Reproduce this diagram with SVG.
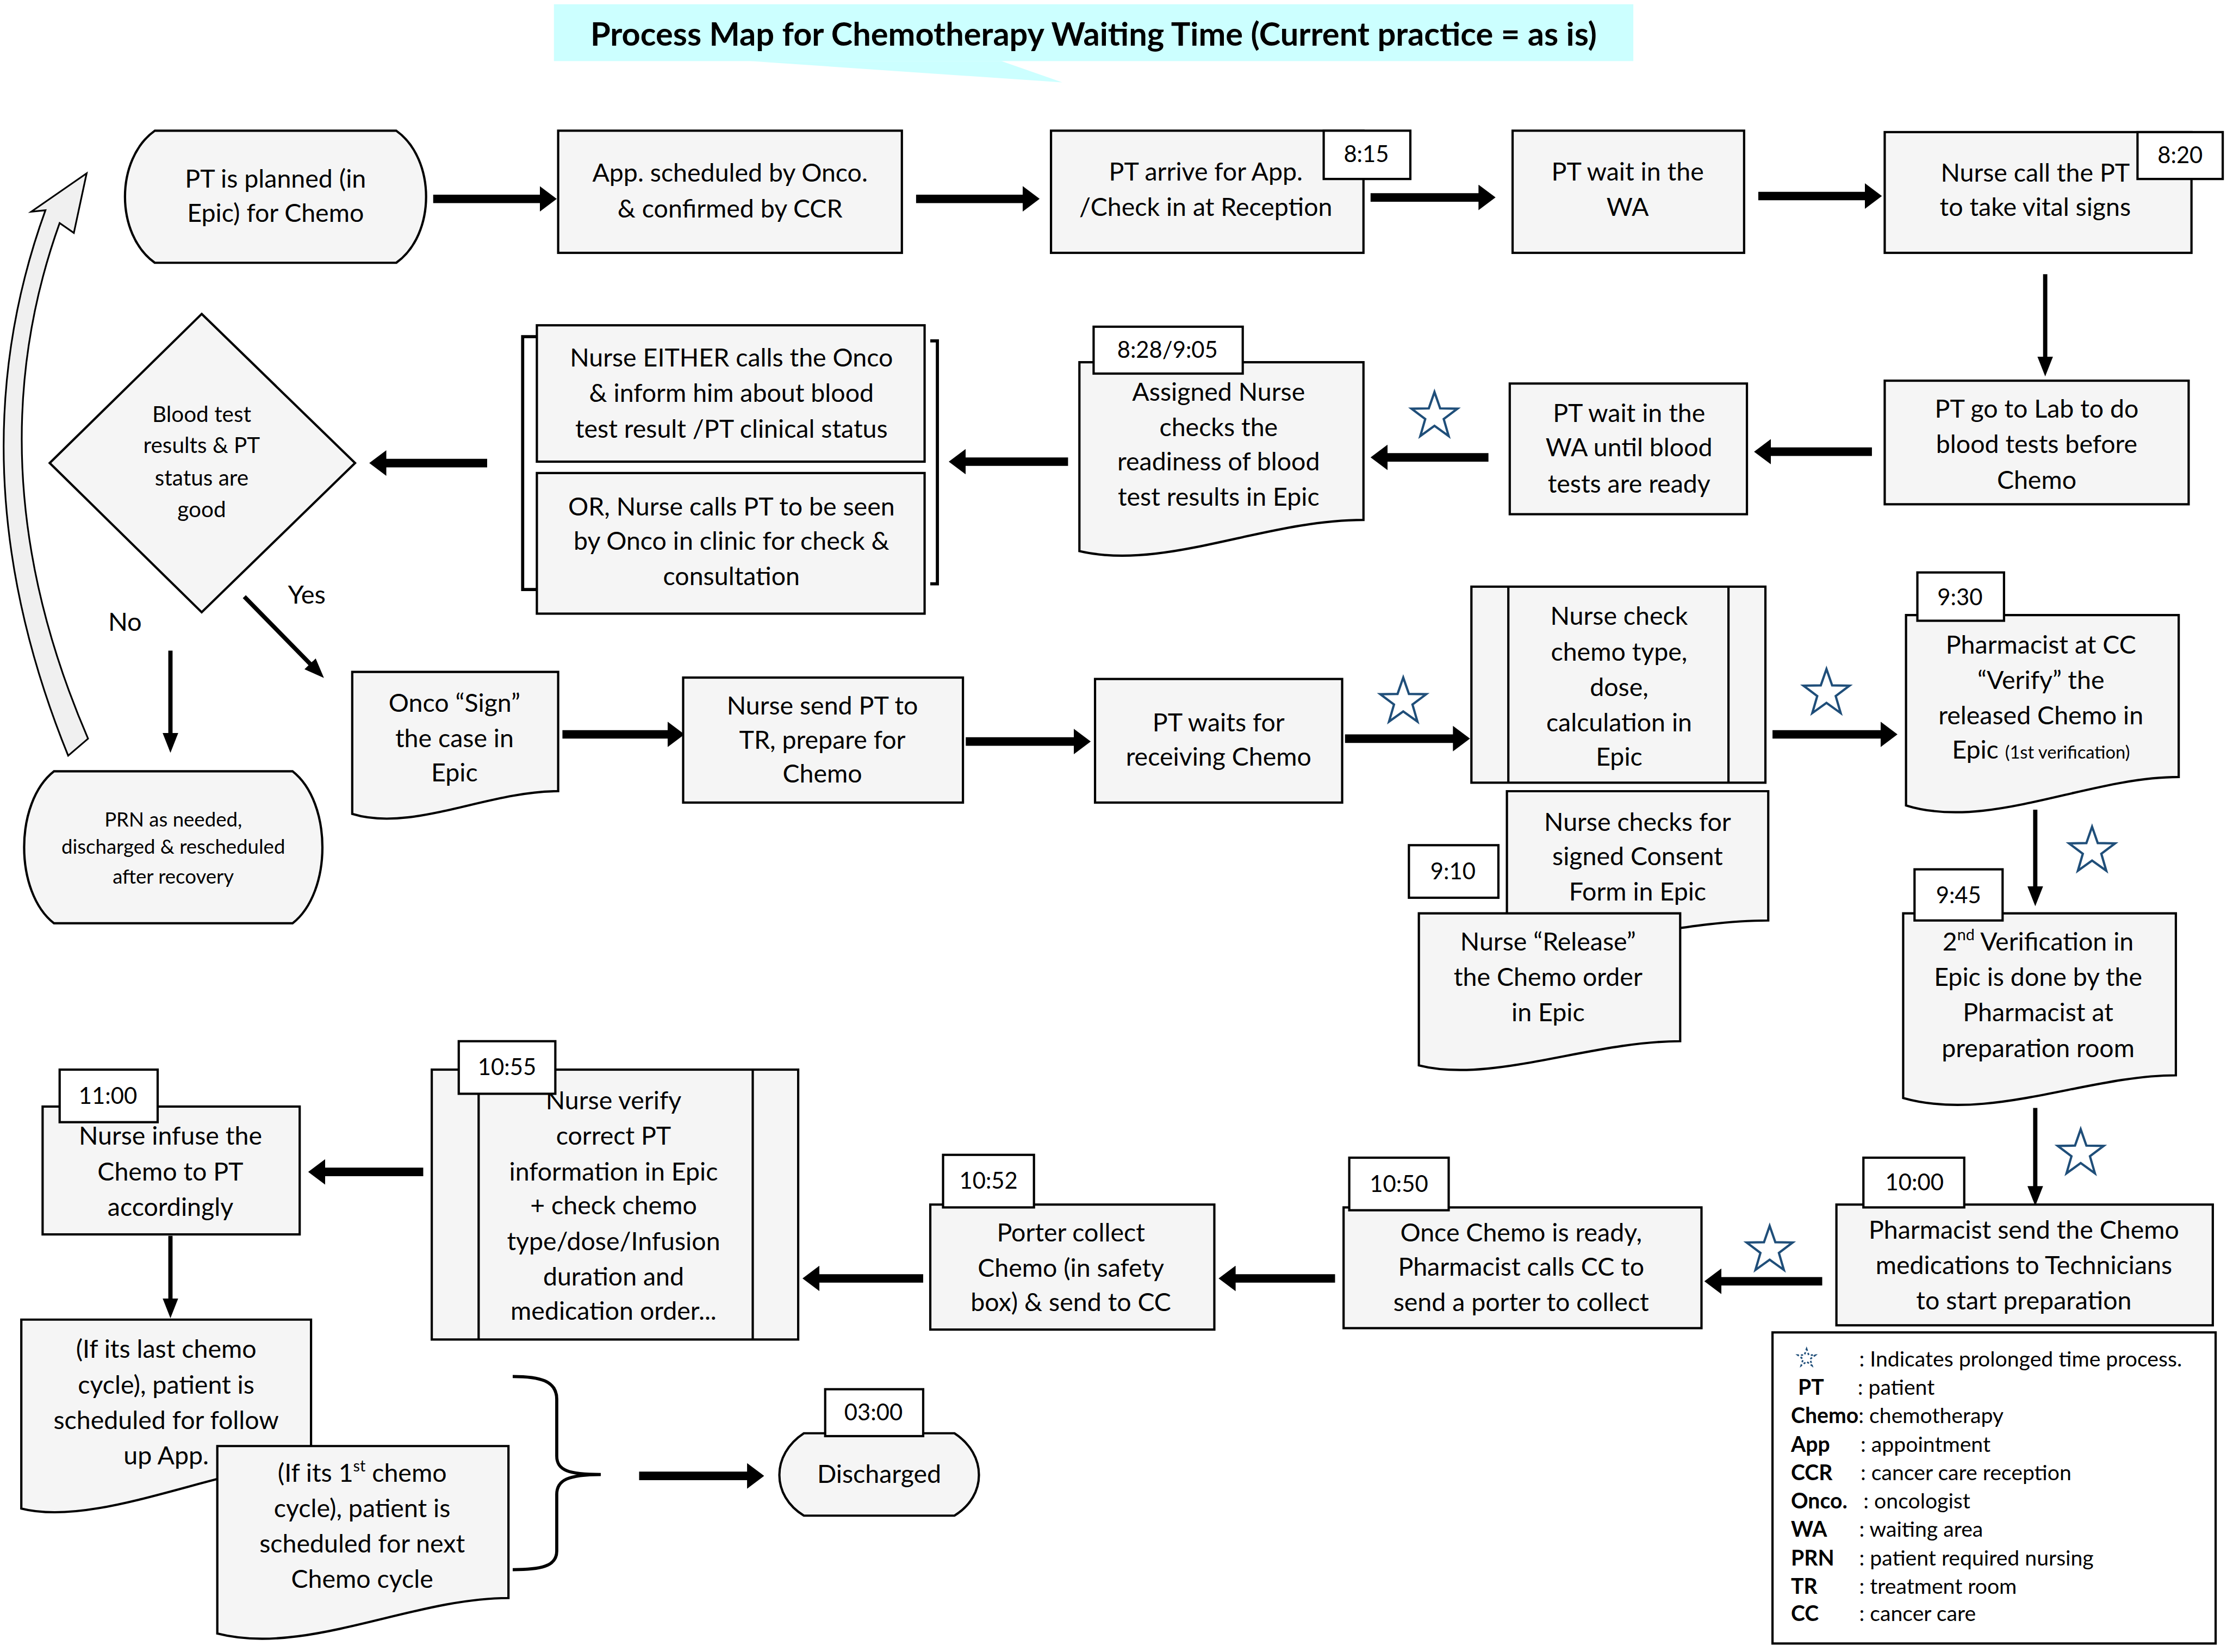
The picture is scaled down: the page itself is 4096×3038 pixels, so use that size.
<svg xmlns="http://www.w3.org/2000/svg" width="4096" height="3038" viewBox="0 0 4096 3038">
<defs>
<style>
.n{fill:#f5f5f5;stroke:#000;stroke-width:1.6}
.tb{fill:#fff;stroke:#000;stroke-width:1.6}
text{font-family:Lato,"Liberation Sans",sans-serif;font-size:17.8px;fill:#000;text-anchor:middle}
.tm{font-size:16px}
.sm{font-size:14px}
.lg{font-size:15px;text-anchor:start}
.b{font-weight:bold}
.a{stroke:#000;stroke-width:6;fill:none;marker-end:url(#ah)}
.av{stroke:#000;stroke-width:3;fill:none;marker-end:url(#ahv)}
.br{fill:none;stroke:#000;stroke-width:2.2}
.star{fill:none;stroke:#1F4E79;stroke-width:1.6}
</style>
<marker id="ah" markerUnits="userSpaceOnUse" markerWidth="12" markerHeight="18" viewBox="0 0 12 18" refX="1" refY="9" orient="auto"><path d="M0,0 L12,9 L0,18 Z" fill="#000"/></marker>
<marker id="ahv" markerUnits="userSpaceOnUse" markerWidth="14" markerHeight="11" viewBox="0 0 14 11" refX="1" refY="5.5" orient="auto"><path d="M0,0 L14,5.5 L0,11 Z" fill="#000"/></marker>
<path id="st" d="M0,-17 L4,-5.5 L16.2,-5.3 L6.5,2 L10,14 L0,6.8 L-10,14 L-6.5,2 L-16.2,-5.3 L-4,-5.5 Z"/>
</defs>
<rect width="4096" height="3038" fill="#fff"/>
<g transform="scale(2.61224)">

<g id="title">
<rect x="390" y="3" width="760" height="40" fill="#CCFFFF"/>
<polygon points="528,43 705,43 748,58" fill="#CCFFFF"/>
<text x="770" y="32" class="b" style="font-size:22.8px">Process Map for Chemotherapy Waiting Time (Current practice = as is)</text>
</g>

<g id="connectors">
<line class="a" x1="305" y1="140" x2="381" y2="140"/>
<line class="a" x1="645" y1="140" x2="721" y2="140"/>
<line class="a" x1="965" y1="139" x2="1042" y2="139"/>
<line class="a" x1="1238" y1="138" x2="1314" y2="138"/>
<line class="av" x1="1440" y1="193" x2="1440" y2="252"/>
<line class="a" x1="1318" y1="318" x2="1246" y2="318"/>
<line class="a" x1="1048" y1="322" x2="976" y2="322"/>
<line class="a" x1="752" y1="325" x2="679" y2="325"/>
<line class="a" x1="343" y1="326" x2="271" y2="326"/>
<line class="av" x1="172" y1="420" x2="219" y2="468"/>
<line class="av" x1="120" y1="458" x2="120" y2="517"/>
<line class="a" x1="396" y1="517" x2="471" y2="517"/>
<line class="a" x1="680" y1="522" x2="757" y2="522"/>
<line class="a" x1="947" y1="520" x2="1024" y2="520"/>
<line class="a" x1="1248" y1="517" x2="1325" y2="517"/>
<line class="av" x1="1433" y1="570" x2="1433" y2="625"/>
<line class="av" x1="1433" y1="780" x2="1433" y2="836"/>
<line class="a" x1="1283" y1="902" x2="1211" y2="902"/>
<line class="a" x1="940" y1="900" x2="869" y2="900"/>
<line class="a" x1="650" y1="900" x2="576" y2="900"/>
<line class="a" x1="298" y1="825" x2="228" y2="825"/>
<line class="av" x1="120" y1="870" x2="120" y2="915"/>
<line class="a" x1="450" y1="1039" x2="527" y2="1039"/>
<path d="M48,532 Q-34,330 32,148 L22,149 L61,122 L52,164 L42,157 Q-20,330 62,520 Z" fill="#f0f0f0" stroke="#000" stroke-width="1.2"/>
<path class="br" d="M361,969 C380,969 392,972 392,985 V1025 C392,1035 400,1038 423,1038 C400,1038 392,1042 392,1052 V1092 C392,1103 380,1105 361,1105"/>
<text x="216" y="425" style="font-size:18px">Yes</text>
<text x="88" y="444" style="font-size:18px">No</text>
<use href="#st" class="star" x="1010" y="293"/>
<use href="#st" class="star" x="988" y="494"/>
<use href="#st" class="star" x="1286" y="488"/>
<use href="#st" class="star" x="1473" y="599"/>
<use href="#st" class="star" x="1465" y="812"/>
<use href="#st" class="star" x="1246" y="880"/>
</g>

<g id="n1">
<path class="n" d="M109,92 H279 C307,112 307,165 279,185 H109 C81,165 81,112 109,92 Z"/>
<text x="194" y="132">PT is planned (in</text>
<text x="194" y="156">Epic) for Chemo</text>
</g>

<g id="n2">
<rect class="n" x="393" y="92" width="242" height="86"/>
<text x="514" y="128">App. scheduled by Onco.</text>
<text x="514" y="153">&amp; confirmed by CCR</text>
</g>

<g id="n3">
<rect class="n" x="740" y="92" width="220" height="86"/>
<text x="849" y="127">PT arrive for App.</text>
<text x="849" y="152">/Check in at Reception</text>
<rect class="tb" x="932" y="92" width="61" height="34"/>
<text x="962" y="114" class="tm">8:15</text>
</g>

<g id="n4">
<rect class="n" x="1065" y="92" width="163" height="86"/>
<text x="1146" y="127">PT wait in the</text>
<text x="1146" y="152">WA</text>
</g>

<g id="n5">
<rect class="n" x="1327" y="93" width="216" height="85"/>
<text x="1433" y="128">Nurse call the PT</text>
<text x="1433" y="152">to take vital signs</text>
<rect class="tb" x="1505" y="93" width="60" height="33"/>
<text x="1535" y="115" class="tm">8:20</text>
</g>

<g id="n6">
<rect class="n" x="1327" y="268" width="214" height="87"/>
<text x="1434" y="294">PT go to Lab to do</text>
<text x="1434" y="319">blood tests before</text>
<text x="1434" y="344">Chemo</text>
</g>

<g id="n7">
<rect class="n" x="1063" y="270" width="167" height="92"/>
<text x="1147" y="297">PT wait in the</text>
<text x="1147" y="321">WA until blood</text>
<text x="1147" y="347">tests are ready</text>
</g>

<g id="n8">
<path class="n" d="M760,255 H960 V366 C890,366 820,402 760,388 Z"/>
<text x="858" y="282">Assigned Nurse</text>
<text x="858" y="307">checks the</text>
<text x="858" y="331">readiness of blood</text>
<text x="858" y="356">test results in Epic</text>
<rect class="tb" x="770" y="230" width="105" height="33"/>
<text x="822" y="252" class="tm">8:28/9:05</text>
</g>

<g id="n9">
<rect class="n" x="378" y="229" width="273" height="96"/>
<text x="515" y="258">Nurse EITHER calls the Onco</text>
<text x="515" y="283">&amp; inform him about blood</text>
<text x="515" y="308">test result /PT clinical status</text>
<rect class="n" x="378" y="333" width="273" height="99"/>
<text x="515" y="363">OR, Nurse calls PT to be seen</text>
<text x="515" y="387">by Onco in clinic for check &amp;</text>
<text x="515" y="412">consultation</text>
<path class="br" d="M378,237 H368 V415 H378"/>
<path class="br" d="M655,240 H660 V411 H655"/>
</g>

<g id="n10">
<polygon class="n" points="142,221 250,326 142,431 35,326"/>
<text x="142" y="297" style="font-size:15.5px">Blood test</text>
<text x="142" y="319" style="font-size:15.5px">results &amp; PT</text>
<text x="142" y="342" style="font-size:15.5px">status are</text>
<text x="142" y="364" style="font-size:15.5px">good</text>
</g>

<g id="n11">
<path class="n" d="M38,543 H206 C234,565 234,628 206,650 H38 C10,628 10,565 38,543 Z"/>
<text x="122" y="582" class="sm">PRN as needed,</text>
<text x="122" y="601" class="sm">discharged &amp; rescheduled</text>
<text x="122" y="622" class="sm">after recovery</text>
</g>

<g id="n12">
<path class="n" d="M248,473 H393 V557 C343,557 290,586 248,573 Z"/>
<text x="320" y="501">Onco “Sign”</text>
<text x="320" y="526">the case in</text>
<text x="320" y="550">Epic</text>
</g>

<g id="n13">
<rect class="n" x="481" y="477" width="197" height="88"/>
<text x="579" y="503">Nurse send PT to</text>
<text x="579" y="527">TR, prepare for</text>
<text x="579" y="551">Chemo</text>
</g>

<g id="n14">
<rect class="n" x="771" y="478" width="174" height="87"/>
<text x="858" y="515">PT waits for</text>
<text x="858" y="539">receiving Chemo</text>
</g>

<g id="n15">
<rect class="n" x="1036" y="413" width="207" height="138"/>
<line x1="1062" y1="413" x2="1062" y2="551" stroke="#000" stroke-width="1.6"/>
<line x1="1217" y1="413" x2="1217" y2="551" stroke="#000" stroke-width="1.6"/>
<text x="1140" y="440">Nurse check</text>
<text x="1140" y="465">chemo type,</text>
<text x="1140" y="490">dose,</text>
<text x="1140" y="515">calculation in</text>
<text x="1140" y="539">Epic</text>
</g>

<g id="n16">
<path class="n" d="M1342,433 H1534 V547 C1470,547 1400,585 1342,567 Z"/>
<text x="1437" y="460">Pharmacist at CC</text>
<text x="1437" y="485">“Verify” the</text>
<text x="1437" y="510">released Chemo in</text>
<text x="1437" y="534">Epic <tspan style="font-size:12.5px">(1st verification)</tspan></text>
<rect class="tb" x="1350" y="403" width="61" height="34"/>
<text x="1380" y="426" class="tm">9:30</text>
</g>

<g id="n17">
<path class="n" d="M1061,557 H1245 V648 C1180,648 1110,672 1061,662 Z"/>
<text x="1153" y="585">Nurse checks for</text>
<text x="1153" y="609">signed Consent</text>
<text x="1153" y="634">Form in Epic</text>
<rect class="tb" x="992" y="595" width="63" height="37"/>
<text x="1023" y="619" class="tm">9:10</text>
</g>

<g id="n18">
<path class="n" d="M999,643 H1183 V733 C1120,733 1050,763 999,750 Z"/>
<text x="1090" y="669">Nurse “Release”</text>
<text x="1090" y="694">the Chemo order</text>
<text x="1090" y="719">in Epic</text>
</g>

<g id="n19">
<path class="n" d="M1340,643 H1532 V757 C1470,757 1400,790 1340,773 Z"/>
<text x="1435" y="669">2<tspan style="font-size:11px" dy="-7">nd</tspan><tspan dy="7"> Verification in</tspan></text>
<text x="1435" y="694">Epic is done by the</text>
<text x="1435" y="719">Pharmacist at</text>
<text x="1435" y="744">preparation room</text>
<rect class="tb" x="1348" y="612" width="62" height="36"/>
<text x="1379" y="636" class="tm">9:45</text>
</g>

<g id="n20">
<rect class="n" x="1293" y="848" width="265" height="85"/>
<text x="1425" y="872">Pharmacist send the Chemo</text>
<text x="1425" y="897">medications to Technicians</text>
<text x="1425" y="922">to start preparation</text>
<rect class="tb" x="1312" y="815" width="71" height="35"/>
<text x="1348" y="838" class="tm">10:00</text>
</g>

<g id="n21">
<rect class="n" x="946" y="850" width="252" height="85"/>
<text x="1071" y="874">Once Chemo is ready,</text>
<text x="1071" y="898">Pharmacist calls CC to</text>
<text x="1071" y="923">send a porter to collect</text>
<rect class="tb" x="950" y="815" width="70" height="37"/>
<text x="985" y="839" class="tm">10:50</text>
</g>

<g id="n22">
<rect class="n" x="655" y="848" width="200" height="88"/>
<text x="754" y="874">Porter collect</text>
<text x="754" y="899">Chemo (in safety</text>
<text x="754" y="923">box) &amp; send to CC</text>
<rect class="tb" x="664" y="813" width="64" height="37"/>
<text x="696" y="837" class="tm">10:52</text>
</g>

<g id="n23">
<rect class="n" x="304" y="753" width="258" height="190"/>
<line x1="337" y1="753" x2="337" y2="943" stroke="#000" stroke-width="1.6"/>
<line x1="530" y1="753" x2="530" y2="943" stroke="#000" stroke-width="1.6"/>
<text x="432" y="781">Nurse verify</text>
<text x="432" y="806">correct PT</text>
<text x="432" y="831">information in Epic</text>
<text x="432" y="855">+ check chemo</text>
<text x="432" y="880">type/dose/Infusion</text>
<text x="432" y="905">duration and</text>
<text x="432" y="929">medication order...</text>
<rect class="tb" x="323" y="733" width="68" height="37"/>
<text x="357" y="757" class="tm">10:55</text>
</g>

<g id="n24">
<rect class="n" x="30" y="779" width="181" height="90"/>
<text x="120" y="806">Nurse infuse the</text>
<text x="120" y="831">Chemo to PT</text>
<text x="120" y="856">accordingly</text>
<rect class="tb" x="42" y="753" width="69" height="37"/>
<text x="76" y="777" class="tm">11:00</text>
</g>

<g id="n25">
<path class="n" d="M15,929 H219 V1030 C160,1030 70,1076 15,1062 Z"/>
<text x="117" y="956">(If its last chemo</text>
<text x="117" y="981">cycle), patient is</text>
<text x="117" y="1006">scheduled for follow</text>
<text x="117" y="1031">up App.</text>
</g>

<g id="n26">
<path class="n" d="M153,1018 H358 V1125 C290,1125 215,1166 153,1150 Z"/>
<text x="255" y="1043">(If its 1<tspan style="font-size:11px" dy="-7">st</tspan><tspan dy="7"> chemo</tspan></text>
<text x="255" y="1068">cycle), patient is</text>
<text x="255" y="1093">scheduled for next</text>
<text x="255" y="1118">Chemo cycle</text>
</g>

<g id="n27">
<path class="n" d="M566,1009 H672 C695,1024 695,1053 672,1067 H566 C543,1053 543,1024 566,1009 Z"/>
<text x="619" y="1044">Discharged</text>
<rect class="tb" x="581" y="978" width="69" height="33"/>
<text x="615" y="1000" class="tm">03:00</text>
</g>

<g id="legend">
<rect x="1248" y="938" width="312" height="219" fill="#fff" stroke="#000" stroke-width="1.6"/>
<use href="#st" x="0" y="0" transform="translate(1272,956) scale(0.38)" fill="none" stroke="#1F4E79" stroke-width="3" stroke-dasharray="4 4"/>
<text x="1309" y="962" class="lg">: Indicates prolonged time process.</text>
<text x="1266" y="982" class="lg b">PT</text><text x="1308" y="982" class="lg">:  patient</text>
<text x="1261" y="1002" class="lg"><tspan class="b">Chemo</tspan>: chemotherapy</text>
<text x="1261" y="1022" class="lg b">App</text><text x="1310" y="1022" class="lg">: appointment</text>
<text x="1261" y="1042" class="lg b">CCR</text><text x="1310" y="1042" class="lg">: cancer care reception</text>
<text x="1261" y="1062" class="lg b">Onco.</text><text x="1312" y="1062" class="lg">: oncologist</text>
<text x="1261" y="1082" class="lg b">WA</text><text x="1309" y="1082" class="lg">: waiting area</text>
<text x="1261" y="1102" class="lg b">PRN</text><text x="1309" y="1102" class="lg">: patient required nursing</text>
<text x="1261" y="1122" class="lg b">TR</text><text x="1309" y="1122" class="lg">: treatment room</text>
<text x="1261" y="1141" class="lg b">CC</text><text x="1309" y="1141" class="lg">: cancer care</text>
</g>

</g>
</svg>
